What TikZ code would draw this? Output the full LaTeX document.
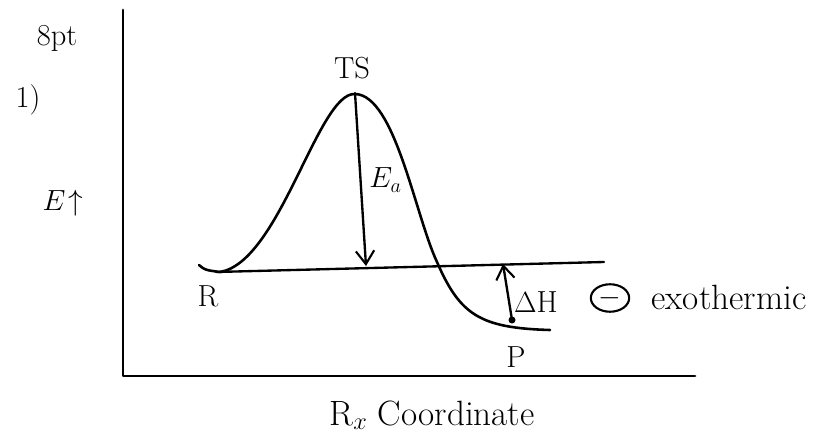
\documentclass[tikz,border=0pt]{standalone}
\usepackage{amsmath}
\usepackage{tikz}
\usetikzlibrary{arrows.meta, shapes.geometric}
\tikzset{every node/.style={font=\fontsize{26}{30}\selectfont, inner sep=1pt}}
\colorlet{axiscol}{black}
\colorlet{curvecol}{black}
\colorlet{labelcol}{black}
\tikzset{
  pen/.style={line width=2pt, line cap=round, line join=round},
  axisline/.style={pen, line width=2.4pt, axiscol},
  gap/.style={pen, -{Straight Barb[length=4mm, width=5.5mm, line width=1.8pt]}},
}

\begin{document}
\begin{tikzpicture}[x=0.3mm, y=-0.3mm, >=Stealth]

  \useasboundingbox (0,0) rectangle (820,438);

  % Axes.
  \coordinate (yt) at (123,10);
  \coordinate (orig) at (123,376);
  \coordinate (xr) at (695,376);
  \draw[axisline] (yt) -- (orig) -- (xr);

  % Reaction profile.
  \draw[pen, curvecol, line width=2.2pt] (199,265) .. controls (205,270) .. (220,272)
    .. controls (280,262) and (318,92) .. (355,94)
    .. controls (395,95) and (415,215) .. (437,262)
    .. controls (460,315) and (480,328) .. (550,330);

  % Reactant level (horizontal reference).
  \coordinate (rl) at (216,272);
  \coordinate (rr) at (604,262);
  \draw[pen] (rl) -- (rr);

  % Activation energy.
  \coordinate (ts) at (355,93);
  \coordinate (eab) at (366,266);
  \draw[gap] (ts) -- (eab);

  % Enthalpy change.
  \coordinate (pmin) at (512,320);
  \coordinate (hb) at (503,264);
  \draw[gap] (pmin) -- (hb);
  \fill (pmin) circle (3.5);

  % Labels.
  \node (pts) at (57,38) {8pt};
  \node (part) at (28,100) {1)};
  \node (elab) at (63,203) {$E\!\uparrow$};
  \node (tslab) at (352,68) {TS};
  \node[anchor=west] (ealab) at (368,180) {$E_a$};
  \node (rlab) at (208,296) {R};
  \node (plab) at (516,357) {P};
  \node (dhlab) at (536,302) {$\Delta$H};
  \node[draw, ellipse, line width=1.8pt, minimum width=11.5mm, minimum height=7.5mm,
        inner sep=0pt] (minus) at (610,298) {$-$};
  \node (exo) at (729,297) {\fontsize{30}{34}\selectfont exothermic};
  \node (xlab) at (432,415) {\fontsize{30}{34}\selectfont R$_x$ Coordinate};

\end{tikzpicture}
\end{document}
